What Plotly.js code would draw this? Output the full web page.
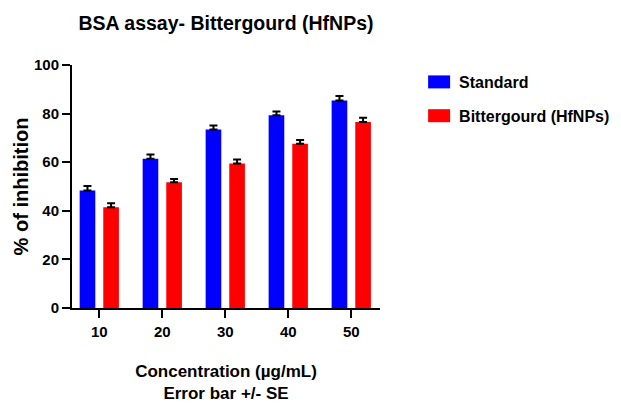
<!DOCTYPE html>
<html>
<head>
<meta charset="utf-8">
<script src="https://cdn.plot.ly/plotly-3.0.1.min.js"></script>
<style>html,body{margin:0;padding:0;background:#fff;}#chart{width:621px;height:407px;}</style>
</head>
<body>
<div id="chart"></div>
<script>
const categories = ["10", "20", "30", "40", "50"];
const standardValues = [48.4, 61.4, 73.5, 79.3, 85.4];
const standardErrors = [1.8, 1.8, 1.6, 1.6, 1.8];
const hfnpValues = [41.5, 51.7, 59.5, 67.6, 76.5];
const hfnpErrors = [1.6, 1.4, 1.6, 1.5, 1.8];
const yTicks = [0, 20, 40, 60, 80, 100];

const FONT = '"Liberation Sans", Arial, sans-serif';

const traces = [
  {
    type: 'bar', name: 'Standard', x: categories, y: standardValues,
    marker: {color: '#0000ff'}, legendgroup: 'a',
    error_y: {type: 'data', symmetric: false, array: standardErrors,
      arrayminus: standardErrors.map(() => 0), color: '#000', thickness: 2, width: 4}
  },
  {
    type: 'bar', name: 'Bittergourd (HfNPs)', x: categories, y: hfnpValues,
    marker: {color: '#ff0000'}, legendgroup: 'b',
    error_y: {type: 'data', symmetric: false, array: hfnpErrors,
      arrayminus: hfnpErrors.map(() => 0), color: '#000', thickness: 2, width: 4}
  }
];

const layout = {
  width: 621, height: 407,
  margin: {l: 72, r: 241, t: 65, b: 99, autoexpand: false},
  paper_bgcolor: '#fff', plot_bgcolor: '#fff',
  barmode: 'group', bargap: 0.25, bargroupgap: 0.338,
  showlegend: true,
  title: {text: 'BSA assay- Bittergourd (HfNPs)', font: {family: FONT, size: 19.5, weight: 'bold', color: '#000'},
    x: 0.5, xref: 'paper', xanchor: 'center', y: 1 - 23/407, yref: 'container', yanchor: 'middle'},
  xaxis: {
    type: 'category', range: [-0.433, 4.456], fixedrange: true, automargin: false,
    tickvals: categories, ticktext: categories,
    showline: true, linecolor: '#000', linewidth: 2, mirror: false,
    ticks: 'outside', ticklen: 8, tickwidth: 2, tickcolor: '#000',
    showgrid: false, zeroline: false,
    tickfont: {family: FONT, size: 15, weight: 'bold', color: '#000'},
    ticklabelstandoff: 1,
    title: {text: 'Concentration (µg/mL)<br>Error bar +/- SE', font: {family: FONT, size: 17, weight: 'bold', color: '#000'}, standoff: 26}
  },
  yaxis: {
    range: [0, 100], tickvals: yTicks, fixedrange: true, automargin: false,
    showline: true, linecolor: '#000', linewidth: 2,
    ticks: 'outside', ticklen: 8, tickwidth: 2, tickcolor: '#000',
    showgrid: false, zeroline: false,
    tickfont: {family: FONT, size: 15, weight: 'bold', color: '#000'},
    title: {text: '% of inhibition', font: {family: FONT, size: 20, weight: 'bold', color: '#000'}, standoff: 0}
  },
  legend: {
    x: 1.127, xanchor: 'left', y: 1.0, yanchor: 'top',
    font: {family: FONT, size: 16, weight: 'bold', color: '#000'},
    tracegroupgap: 10, bgcolor: 'rgba(0,0,0,0)', borderwidth: 0
  }
};

Plotly.newPlot('chart', traces, layout, {displayModeBar: false, staticPlot: true}).then(gd => {
  document.querySelectorAll('.legendpoints path').forEach(p => {
    p.setAttribute('d', 'M11,6.5H-11V-6.5H11Z');
  });
});
</script>
</body>
</html>
